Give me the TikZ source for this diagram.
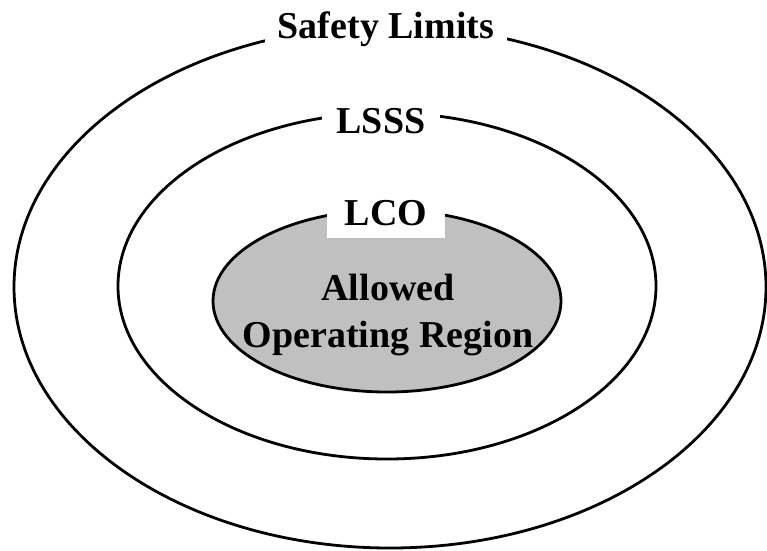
\documentclass[tikz,border=0pt]{standalone}
\usepackage{fontspec}
\setmainfont{Liberation Serif}
\usetikzlibrary{shapes.geometric}
\definecolor{regiongray}{HTML}{C0C0C0}
\tikzset{
  ring/.style={ellipse, draw=black, line width=2.8pt, inner sep=0pt, outer sep=0pt},
  lbl/.style={fill=white, inner ysep=0pt, text height=30pt, text depth=12pt, anchor=base,
              font=\bfseries\fontsize{38}{44}\selectfont},
}
\begin{document}
\begin{tikzpicture}[x=1pt,y=1pt]
\useasboundingbox (0,0) rectangle (767,-550);
\node[ring, minimum width=752pt, minimum height=522pt] (outer) at (390,-287) {};
\node[ring, minimum width=538pt, minimum height=346pt] (middle) at (387,-286) {};
\node[ring, fill=regiongray, minimum width=348pt, minimum height=182pt] (inner) at (387,-301) {};
\node[lbl, inner xsep=13pt] (safety) at (386,-38) {Safety Limits};
\node[lbl, inner xsep=14.5pt] (lsss) at (381,-133) {LSSS};
\node[lbl, inner xsep=17.5pt, text depth=13pt] (lco) at (386,-225) {LCO};
\node[align=center, inner sep=0pt, font=\bfseries\fontsize{38}{47}\selectfont] (region) at (388,-314.8) {Allowed\\Operating Region};
\end{tikzpicture}
\end{document}
